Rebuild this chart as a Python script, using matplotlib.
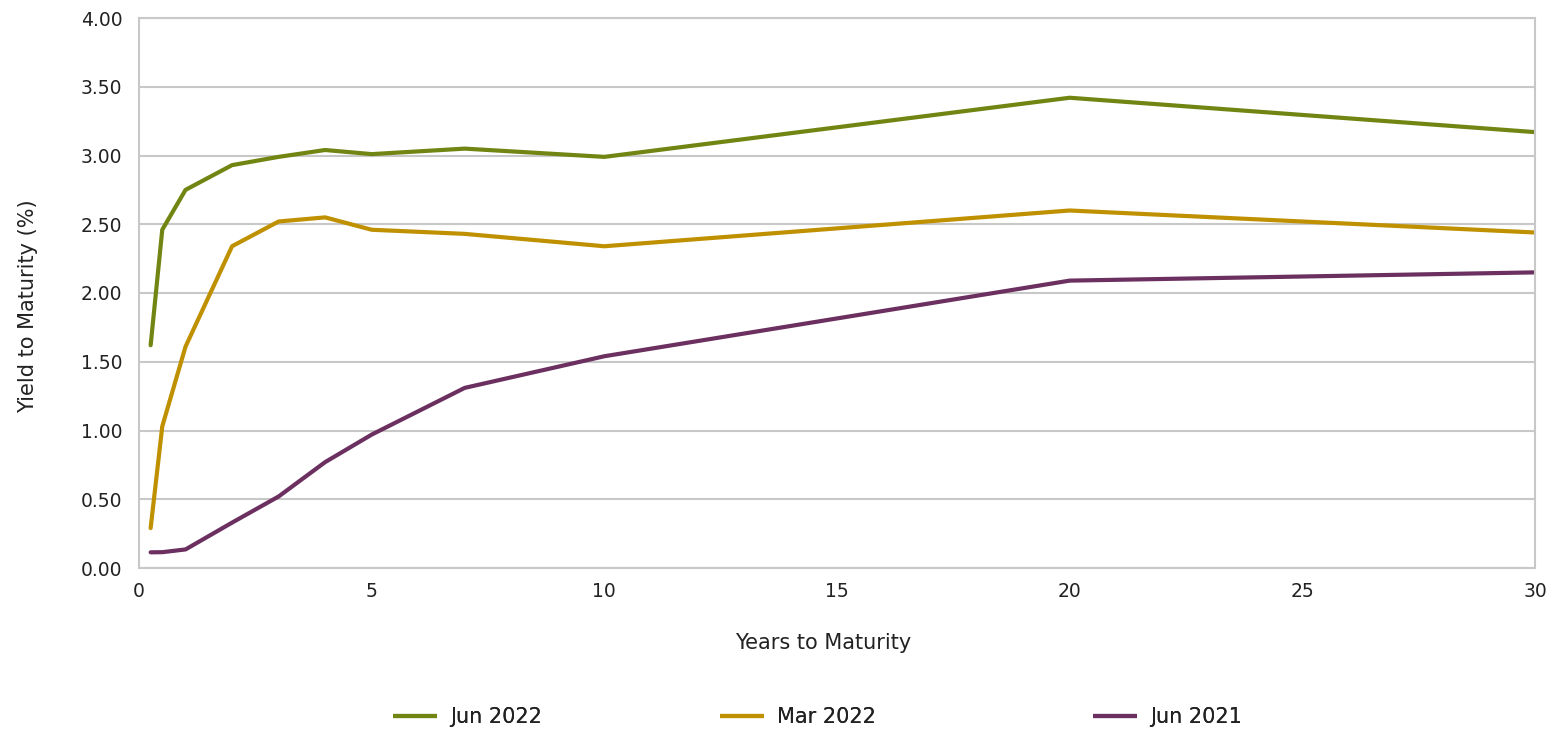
"""Treasury yield curves for three dates."""
import numpy as np
import matplotlib.pyplot as plt

# maturities in years
maturity = [0.25, 0.5, 1, 2, 3, 4, 5, 7, 10, 20, 30]

# yields to maturity (%)
jun_2022 = [1.62, 2.46, 2.75, 2.93, 2.99, 3.04, 3.01, 3.05, 2.99, 3.42, 3.17]
mar_2022 = [0.29, 1.03, 1.61, 2.34, 2.52, 2.55, 2.46, 2.43, 2.34, 2.60, 2.44]
jun_2021 = [0.114, 0.115, 0.135, 0.33, 0.52, 0.77, 0.97, 1.31, 1.54, 2.09, 2.15]

series = [('Jun 2022', jun_2022, '#718512'),
          ('Mar 2022', mar_2022, '#BF9000'),
          ('Jun 2021', jun_2021, '#6B3060')]

plt.rcParams['font.family'] = ['DejaVu Sans']
grid_col = '#C8C8C8'
text_col = '#222222'

fig = plt.figure(figsize=(15.52, 7.3), dpi=100)
ax = fig.add_axes([139 / 1552, 162 / 730, (1535 - 139) / 1552, (568 - 18) / 730])

lines = []
for name, vals, col in series:
    ln, = ax.plot(maturity, vals, color=col, lw=3, label=name,
                  solid_capstyle='round', solid_joinstyle='round')
    lines.append(ln)

# axis limits & ticks
ax.set_xlim(0, 30)
ax.set_ylim(0, 4)
ax.set_xticks(np.arange(0, 31, 5))
ax.set_yticks(np.arange(0, 4.01, 0.5))
ax.set_yticklabels([f'{v:.2f}' for v in np.arange(0, 4.01, 0.5)])
ax.tick_params(length=0, labelsize=13.5, colors=text_col)
ax.tick_params(axis='y', pad=12)
ax.tick_params(axis='x', pad=10)

# grid & frame
ax.grid(axis='y', color=grid_col, lw=1.5)
ax.set_axisbelow(True)
for sp in ax.spines.values():
    sp.set_color(grid_col)
    sp.set_linewidth(1.5)

ax.set_xlabel('Years to Maturity', fontsize=15, color=text_col)
ax.xaxis.set_label_coords(0.49, -(633 - 568) / 550)
ax.set_ylabel('Yield to Maturity (%)', fontsize=15, color=text_col)
ax.yaxis.set_label_coords(-(139 - 38) / 1396, (568 - 306) / 550)

# one legend entry per slot along the bottom
for ln, x0 in zip(lines, [393, 720, 1093]):
    leg = fig.legend([ln], [ln.get_label()], loc='center left',
                     bbox_to_anchor=(x0 / 1552, 1 - 717 / 730),
                     frameon=False, fontsize=15, handlelength=2.1,
                     handletextpad=0.63, borderpad=0, borderaxespad=0)
    for t in leg.get_texts():
        t.set_color(text_col)
    leg.get_lines()[0].set_solid_capstyle('butt')
    fig.add_artist(leg)

fig.savefig('out.png', dpi=100)
